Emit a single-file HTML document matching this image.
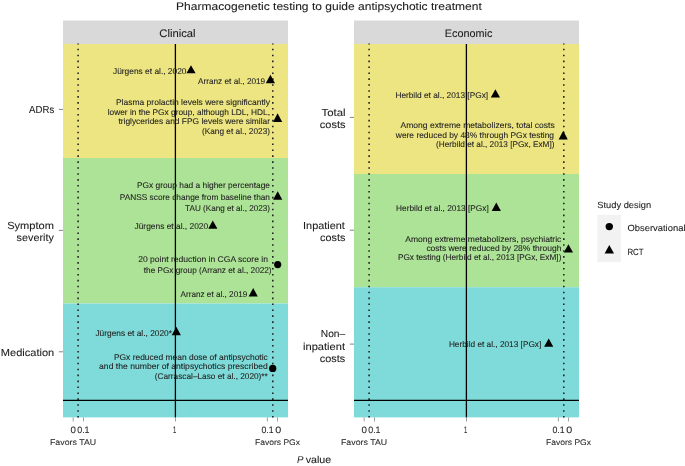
<!DOCTYPE html>
<html><head><meta charset="utf-8"><style>
html,body{margin:0;padding:0;background:#fff;}
svg{display:block;will-change:transform;}
text{font-family:"Liberation Sans",sans-serif;text-rendering:geometricPrecision;}
</style></head><body>
<svg width="685" height="466" viewBox="0 0 685 466">
<rect width="685" height="466" fill="#fff"/>
<text x="176.10" y="10.00" font-size="10.9" textLength="305.70" lengthAdjust="spacingAndGlyphs" fill="#1a1a1a" stroke="#1a1a1a" stroke-width="0.08">Pharmacogenetic testing to guide antipsychotic treatment</text>
<rect x="63" y="20.5" width="225" height="23.5" fill="#d9d9d9"/>
<text x="159.30" y="36.70" font-size="10.9" textLength="36.20" lengthAdjust="spacingAndGlyphs" fill="#1a1a1a" stroke="#1a1a1a" stroke-width="0.08">Clinical</text>
<rect x="63" y="44" width="225" height="114" fill="#ede582"/>
<rect x="63" y="158" width="225" height="145.5" fill="#ade396"/>
<rect x="63" y="303.5" width="225" height="113.89999999999998" fill="#7fdbd9"/>
<line x1="78.1" y1="43.6" x2="78.1" y2="417.4" stroke="#222" stroke-width="1.6" stroke-dasharray="1.6 4.325" stroke-dashoffset="0.8"/>
<line x1="272.8" y1="43.6" x2="272.8" y2="417.4" stroke="#222" stroke-width="1.6" stroke-dasharray="1.6 4.325" stroke-dashoffset="0.8"/>
<line x1="175.4" y1="44" x2="175.4" y2="417.4" stroke="#000" stroke-width="1.3"/>
<line x1="63" y1="400.45" x2="288" y2="400.45" stroke="#000" stroke-width="1.3"/>
<line x1="73.2" y1="417.4" x2="73.2" y2="421.5" stroke="#888" stroke-width="0.8"/>
<line x1="83.5" y1="417.4" x2="83.5" y2="421.5" stroke="#888" stroke-width="0.8"/>
<line x1="175.5" y1="417.4" x2="175.5" y2="421.5" stroke="#888" stroke-width="0.8"/>
<line x1="267.4" y1="417.4" x2="267.4" y2="421.5" stroke="#888" stroke-width="0.8"/>
<line x1="277.5" y1="417.4" x2="277.5" y2="421.5" stroke="#888" stroke-width="0.8"/>
<text x="70.50" y="433.00" font-size="9.4" textLength="5.40" lengthAdjust="spacingAndGlyphs" fill="#2a2a2a" stroke="#2a2a2a" stroke-width="0.08">0</text>
<text x="77.20" y="433.00" font-size="9.4" textLength="12.40" lengthAdjust="spacingAndGlyphs" fill="#2a2a2a" stroke="#2a2a2a" stroke-width="0.08">0.1</text>
<text x="172.90" y="433.00" font-size="9.4" textLength="3.30" lengthAdjust="spacingAndGlyphs" fill="#2a2a2a" stroke="#2a2a2a" stroke-width="0.08">1</text>
<text x="261.40" y="433.00" font-size="9.4" textLength="12.20" lengthAdjust="spacingAndGlyphs" fill="#2a2a2a" stroke="#2a2a2a" stroke-width="0.08">0.1</text>
<text x="275.30" y="433.00" font-size="9.4" textLength="6.00" lengthAdjust="spacingAndGlyphs" fill="#2a2a2a" stroke="#2a2a2a" stroke-width="0.08">0</text>
<text x="50.00" y="444.70" font-size="8.2" textLength="46.10" lengthAdjust="spacingAndGlyphs" fill="#2a2a2a" stroke="#2a2a2a" stroke-width="0.08">Favors TAU</text>
<text x="255.00" y="444.80" font-size="8.2" textLength="45.00" lengthAdjust="spacingAndGlyphs" fill="#2a2a2a" stroke="#2a2a2a" stroke-width="0.08">Favors PGx</text>
<rect x="354" y="20.5" width="225" height="23.5" fill="#d9d9d9"/>
<text x="444.80" y="36.70" font-size="10.9" textLength="47.50" lengthAdjust="spacingAndGlyphs" fill="#1a1a1a" stroke="#1a1a1a" stroke-width="0.08">Economic</text>
<rect x="354" y="44" width="225" height="130" fill="#ede582"/>
<rect x="354" y="174" width="225" height="113.19999999999999" fill="#ade396"/>
<rect x="354" y="287.2" width="225" height="130.2" fill="#7fdbd9"/>
<line x1="369.1" y1="43.6" x2="369.1" y2="417.4" stroke="#222" stroke-width="1.6" stroke-dasharray="1.6 4.325" stroke-dashoffset="0.8"/>
<line x1="563.8" y1="43.6" x2="563.8" y2="417.4" stroke="#222" stroke-width="1.6" stroke-dasharray="1.6 4.325" stroke-dashoffset="0.8"/>
<line x1="466.4" y1="44" x2="466.4" y2="417.4" stroke="#000" stroke-width="1.3"/>
<line x1="354" y1="400.45" x2="579" y2="400.45" stroke="#000" stroke-width="1.3"/>
<line x1="364.2" y1="417.4" x2="364.2" y2="421.5" stroke="#888" stroke-width="0.8"/>
<line x1="374.5" y1="417.4" x2="374.5" y2="421.5" stroke="#888" stroke-width="0.8"/>
<line x1="466.5" y1="417.4" x2="466.5" y2="421.5" stroke="#888" stroke-width="0.8"/>
<line x1="558.4" y1="417.4" x2="558.4" y2="421.5" stroke="#888" stroke-width="0.8"/>
<line x1="568.5" y1="417.4" x2="568.5" y2="421.5" stroke="#888" stroke-width="0.8"/>
<text x="361.50" y="433.00" font-size="9.4" textLength="5.40" lengthAdjust="spacingAndGlyphs" fill="#2a2a2a" stroke="#2a2a2a" stroke-width="0.08">0</text>
<text x="368.20" y="433.00" font-size="9.4" textLength="12.40" lengthAdjust="spacingAndGlyphs" fill="#2a2a2a" stroke="#2a2a2a" stroke-width="0.08">0.1</text>
<text x="463.90" y="433.00" font-size="9.4" textLength="3.30" lengthAdjust="spacingAndGlyphs" fill="#2a2a2a" stroke="#2a2a2a" stroke-width="0.08">1</text>
<text x="552.40" y="433.00" font-size="9.4" textLength="12.20" lengthAdjust="spacingAndGlyphs" fill="#2a2a2a" stroke="#2a2a2a" stroke-width="0.08">0.1</text>
<text x="566.30" y="433.00" font-size="9.4" textLength="6.00" lengthAdjust="spacingAndGlyphs" fill="#2a2a2a" stroke="#2a2a2a" stroke-width="0.08">0</text>
<text x="341.00" y="444.70" font-size="8.2" textLength="46.10" lengthAdjust="spacingAndGlyphs" fill="#2a2a2a" stroke="#2a2a2a" stroke-width="0.08">Favors TAU</text>
<text x="546.00" y="444.80" font-size="8.2" textLength="45.00" lengthAdjust="spacingAndGlyphs" fill="#2a2a2a" stroke="#2a2a2a" stroke-width="0.08">Favors PGx</text>
<line x1="58.8" y1="109.4" x2="63" y2="109.4" stroke="#777" stroke-width="0.9"/>
<line x1="58.8" y1="230.4" x2="63" y2="230.4" stroke="#777" stroke-width="0.9"/>
<line x1="58.8" y1="351.8" x2="63" y2="351.8" stroke="#777" stroke-width="0.9"/>
<line x1="349.8" y1="117.4" x2="354" y2="117.4" stroke="#777" stroke-width="0.9"/>
<line x1="349.8" y1="230.2" x2="354" y2="230.2" stroke="#777" stroke-width="0.9"/>
<line x1="349.8" y1="344.1" x2="354" y2="344.1" stroke="#777" stroke-width="0.9"/>
<text x="29.10" y="112.80" font-size="10.3" textLength="25.10" lengthAdjust="spacingAndGlyphs" fill="#1a1a1a" stroke="#1a1a1a" stroke-width="0.08">ADRs</text>
<text x="7.20" y="228.80" font-size="10.3" textLength="46.80" lengthAdjust="spacingAndGlyphs" fill="#1a1a1a" stroke="#1a1a1a" stroke-width="0.08">Symptom</text>
<text x="16.60" y="241.20" font-size="10.3" textLength="37.20" lengthAdjust="spacingAndGlyphs" fill="#1a1a1a" stroke="#1a1a1a" stroke-width="0.08">severity</text>
<text x="0.80" y="355.50" font-size="10.3" textLength="53.40" lengthAdjust="spacingAndGlyphs" fill="#1a1a1a" stroke="#1a1a1a" stroke-width="0.08">Medication</text>
<text x="321.50" y="115.50" font-size="10.3" textLength="24.00" lengthAdjust="spacingAndGlyphs" fill="#1a1a1a" stroke="#1a1a1a" stroke-width="0.08">Total</text>
<text x="319.80" y="128.00" font-size="10.3" textLength="25.70" lengthAdjust="spacingAndGlyphs" fill="#1a1a1a" stroke="#1a1a1a" stroke-width="0.08">costs</text>
<text x="303.10" y="228.70" font-size="10.3" textLength="41.70" lengthAdjust="spacingAndGlyphs" fill="#1a1a1a" stroke="#1a1a1a" stroke-width="0.08">Inpatient</text>
<text x="320.10" y="241.10" font-size="10.3" textLength="25.20" lengthAdjust="spacingAndGlyphs" fill="#1a1a1a" stroke="#1a1a1a" stroke-width="0.08">costs</text>
<text x="320.80" y="337.00" font-size="10.3" textLength="24.40" lengthAdjust="spacingAndGlyphs" fill="#1a1a1a" stroke="#1a1a1a" stroke-width="0.08">Non–</text>
<text x="303.00" y="349.50" font-size="10.3" textLength="42.00" lengthAdjust="spacingAndGlyphs" fill="#1a1a1a" stroke="#1a1a1a" stroke-width="0.08">inpatient</text>
<text x="319.80" y="361.60" font-size="10.3" textLength="25.40" lengthAdjust="spacingAndGlyphs" fill="#1a1a1a" stroke="#1a1a1a" stroke-width="0.08">costs</text>
<text x="113.00" y="73.90" font-size="8.3" textLength="73.50" lengthAdjust="spacingAndGlyphs" fill="#222222" stroke="#222222" stroke-width="0.08">Jürgens et al., 2020</text>
<polygon points="186.40,73.30 195.60,73.30 191.00,65.25" fill="#000"/>
<text x="198.00" y="83.50" font-size="8.3" textLength="67.20" lengthAdjust="spacingAndGlyphs" fill="#222222" stroke="#222222" stroke-width="0.08">Arranz et al., 2019</text>
<polygon points="265.80,83.30 275.00,83.30 270.40,74.75" fill="#000"/>
<text x="115.90" y="104.90" font-size="8.3" textLength="154.10" lengthAdjust="spacingAndGlyphs" fill="#222222" stroke="#222222" stroke-width="0.08">Plasma prolactin levels were significantly</text>
<text x="107.70" y="114.60" font-size="8.3" textLength="162.30" lengthAdjust="spacingAndGlyphs" fill="#222222" stroke="#222222" stroke-width="0.08">lower in the PGx group, although LDL, HDL,</text>
<text x="118.40" y="124.10" font-size="8.3" textLength="151.60" lengthAdjust="spacingAndGlyphs" fill="#222222" stroke="#222222" stroke-width="0.08">triglycerides and FPG levels were similar</text>
<text x="202.00" y="133.60" font-size="8.3" textLength="68.00" lengthAdjust="spacingAndGlyphs" fill="#222222" stroke="#222222" stroke-width="0.08">(Kang et al., 2023)</text>
<polygon points="273.00,122.00 282.20,122.00 277.60,113.35" fill="#000"/>
<text x="136.90" y="188.30" font-size="8.3" textLength="133.10" lengthAdjust="spacingAndGlyphs" fill="#222222" stroke="#222222" stroke-width="0.08">PGx group had a higher percentage</text>
<text x="119.80" y="199.70" font-size="8.3" textLength="150.20" lengthAdjust="spacingAndGlyphs" fill="#222222" stroke="#222222" stroke-width="0.08">PANSS score change from baseline than</text>
<text x="185.10" y="210.90" font-size="8.3" textLength="84.90" lengthAdjust="spacingAndGlyphs" fill="#222222" stroke="#222222" stroke-width="0.08">TAU (Kang et al., 2023)</text>
<polygon points="273.10,199.80 282.30,199.80 277.70,191.25" fill="#000"/>
<text x="134.50" y="229.00" font-size="8.3" textLength="73.70" lengthAdjust="spacingAndGlyphs" fill="#222222" stroke="#222222" stroke-width="0.08">Jürgens et al., 2020</text>
<polygon points="208.20,228.80 217.40,228.80 212.80,220.45" fill="#000"/>
<text x="138.20" y="262.00" font-size="8.3" textLength="129.80" lengthAdjust="spacingAndGlyphs" fill="#222222" stroke="#222222" stroke-width="0.08">20 point reduction in CGA score in</text>
<text x="143.80" y="273.00" font-size="8.3" textLength="127.80" lengthAdjust="spacingAndGlyphs" fill="#222222" stroke="#222222" stroke-width="0.08">the PGx group (Arranz et al., 2022)</text>
<circle cx="277.7" cy="264.6" r="3.6" fill="#000"/>
<text x="180.50" y="296.80" font-size="8.3" textLength="66.80" lengthAdjust="spacingAndGlyphs" fill="#222222" stroke="#222222" stroke-width="0.08">Arranz et al., 2019</text>
<polygon points="248.60,296.50 257.80,296.50 253.20,288.05" fill="#000"/>
<text x="95.40" y="335.90" font-size="8.3" textLength="76.60" lengthAdjust="spacingAndGlyphs" fill="#222222" stroke="#222222" stroke-width="0.08">Jürgens et al., 2020*</text>
<polygon points="171.70,335.30 180.90,335.30 176.30,326.65" fill="#000"/>
<text x="113.90" y="359.90" font-size="8.3" textLength="153.90" lengthAdjust="spacingAndGlyphs" fill="#222222" stroke="#222222" stroke-width="0.08">PGx reduced mean dose of antipsychotic</text>
<text x="99.10" y="369.30" font-size="8.3" textLength="168.70" lengthAdjust="spacingAndGlyphs" fill="#222222" stroke="#222222" stroke-width="0.08">and the number of antipsychotics prescribed</text>
<text x="154.80" y="378.60" font-size="8.3" textLength="113.00" lengthAdjust="spacingAndGlyphs" fill="#222222" stroke="#222222" stroke-width="0.08">(Carrascal–Laso et al., 2020)**</text>
<circle cx="272.7" cy="368.4" r="3.65" fill="#000"/>
<text x="395.40" y="97.70" font-size="8.3" textLength="92.70" lengthAdjust="spacingAndGlyphs" fill="#222222" stroke="#222222" stroke-width="0.08">Herbild et al., 2013 [PGx]</text>
<polygon points="490.80,97.50 500.00,97.50 495.40,89.25" fill="#000"/>
<text x="400.50" y="128.30" font-size="8.3" textLength="154.20" lengthAdjust="spacingAndGlyphs" fill="#222222" stroke="#222222" stroke-width="0.08">Among extreme metabolizers, total costs</text>
<text x="395.80" y="137.60" font-size="8.3" textLength="158.20" lengthAdjust="spacingAndGlyphs" fill="#222222" stroke="#222222" stroke-width="0.08">were reduced by 48% through PGx testing</text>
<text x="436.10" y="147.00" font-size="8.3" textLength="118.40" lengthAdjust="spacingAndGlyphs" fill="#222222" stroke="#222222" stroke-width="0.08">(Herbild et al., 2013 [PGx, ExM])</text>
<polygon points="558.60,139.40 567.80,139.40 563.20,130.85" fill="#000"/>
<text x="396.10" y="211.00" font-size="8.3" textLength="92.60" lengthAdjust="spacingAndGlyphs" fill="#222222" stroke="#222222" stroke-width="0.08">Herbild et al., 2013 [PGx]</text>
<polygon points="491.70,210.90 500.90,210.90 496.30,202.55" fill="#000"/>
<text x="405.20" y="241.60" font-size="8.3" textLength="156.20" lengthAdjust="spacingAndGlyphs" fill="#222222" stroke="#222222" stroke-width="0.08">Among extreme metabolizers, psychiatric</text>
<text x="426.40" y="250.90" font-size="8.3" textLength="135.00" lengthAdjust="spacingAndGlyphs" fill="#222222" stroke="#222222" stroke-width="0.08">costs were reduced by 28% through</text>
<text x="397.90" y="260.30" font-size="8.3" textLength="163.50" lengthAdjust="spacingAndGlyphs" fill="#222222" stroke="#222222" stroke-width="0.08">PGx testing (Herbild et al., 2013 [PGx, ExM])</text>
<polygon points="563.80,252.50 573.00,252.50 568.40,244.25" fill="#000"/>
<text x="448.90" y="346.70" font-size="8.3" textLength="92.40" lengthAdjust="spacingAndGlyphs" fill="#222222" stroke="#222222" stroke-width="0.08">Herbild et al., 2013 [PGx]</text>
<polygon points="544.10,346.70 553.30,346.70 548.70,338.45" fill="#000"/>
<text x="597.30" y="208.00" font-size="9.0" textLength="53.80" lengthAdjust="spacingAndGlyphs" fill="#1a1a1a" stroke="#1a1a1a" stroke-width="0.08">Study design</text>
<rect x="597.3" y="214.8" width="23.7" height="47.4" fill="#f2f2f2"/>
<circle cx="609.3" cy="226.6" r="3.7" fill="#000"/>
<polygon points="604.60,253.60 614.00,253.60 609.30,244.95" fill="#000"/>
<text x="627.40" y="231.00" font-size="9.0" textLength="58.10" lengthAdjust="spacingAndGlyphs" fill="#1a1a1a" stroke="#1a1a1a" stroke-width="0.08">Observational</text>
<text x="627.40" y="254.60" font-size="9.0" textLength="16.20" lengthAdjust="spacingAndGlyphs" fill="#1a1a1a" stroke="#1a1a1a" stroke-width="0.08">RCT</text>
<text x="296.9" y="462.8" font-size="10" fill="#1a1a1a" font-style="italic" textLength="6.5" lengthAdjust="spacingAndGlyphs">P</text>
<text x="305.70" y="462.80" font-size="10" textLength="25.50" lengthAdjust="spacingAndGlyphs" fill="#1a1a1a" stroke="#1a1a1a" stroke-width="0.08">value</text>
</svg></body></html>
